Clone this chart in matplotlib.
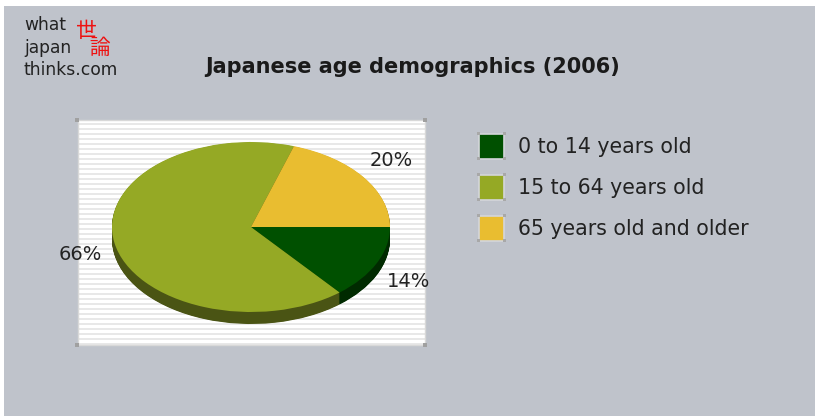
import numpy as np
import matplotlib
matplotlib.use("Agg")
import matplotlib.pyplot as plt
from matplotlib.patches import Wedge, Rectangle
from matplotlib.transforms import Affine2D

categories = ["0 to 14 years old", "15 to 64 years old", "65 years old and older"]
values = [14, 66, 20]
labels = ["14%", "66%", "20%"]
title = "Japanese age demographics (2006)"

top_colors = ["#005000", "#95a925", "#e9bd30"]
side_colors = ["#002a00", "#4a5414", "#7a6418"]

W, H = 815, 416
fig = plt.figure(figsize=(W / 100, H / 100), dpi=100)
fig.patch.set_facecolor("white")

def fx(x):
    return x / W

def fy(y):
    return 1 - y / H

# gray background
fig.add_artist(Rectangle((fx(4), 0), 1 - fx(4), fy(6), transform=fig.transFigure,
                         facecolor="#bfc3cb", edgecolor="none", zorder=-10))

# logo
for txt, yb in [("what", 30), ("japan", 53), ("thinks.com", 75)]:
    fig.text(fx(24), fy(yb), txt, fontsize=12.3, color="#222222", va="baseline", ha="left",
             family="DejaVu Sans")
fig.text(fx(76), fy(20), "世\n   論", fontsize=15, color="#ee1111", ha="left", va="top",
         multialignment="left", linespacing=0.68,
         family=["Noto Sans CJK JP", "DejaVu Sans"])

# title
fig.text(fx(412.5), fy(67), title, fontsize=15, fontweight="bold", color="#1a1a1a",
         ha="center", va="center")

# plot box
bx0, bx1, by0, by1 = 78, 425, 120, 345
ax = fig.add_axes([fx(bx0), fy(by1), fx(bx1) - fx(bx0), fy(by0) - fy(by1)])
ax.set_xlim(bx0, bx1)
ax.set_ylim(H - by1, H - by0)
ax.set_facecolor("white")
for s in ax.spines.values():
    s.set_color("#d8d8d8")
    s.set_linewidth(1)
ax.set_xticks([])
ax.set_yticks([])
ax.set_aspect("auto")
for yy in np.arange(H - by1, H - by0, 5):
    ax.axhspan(yy, yy + 2.2, color="#e8e8e8", lw=0, zorder=0)

cx, cy = 251, H - 227
rx, ry = 139, 85
depth = 12

fracs = np.array(values, dtype=float) / np.sum(values)
ends = -np.cumsum(fracs) * 360
starts = np.concatenate([[0], ends[:-1]])

ell = Affine2D().scale(rx, ry)

def draw_layer(offset, colors, z):
    tr = ell + Affine2D().translate(cx, cy - offset) + ax.transData
    for a0, a1, c in zip(starts, ends, colors):
        w = Wedge((0, 0), 1, a1, a0, facecolor=c, edgecolor="none", transform=tr, zorder=z)
        ax.add_patch(w)

for off in np.arange(depth, 0, -0.5):
    draw_layer(off, side_colors, 2)
draw_layer(0, top_colors, 3)

# labels
mids = (starts + ends) / 2
for m, lab in zip(mids, labels):
    r = np.deg2rad(m)
    lx = cx + 1.25 * rx * np.cos(r)
    ly = cy + 1.33 * ry * np.sin(r) - (6 if np.sin(r) < 0 else 0)
    ax.text(lx, ly, lab, fontsize=14, color="#222222", ha="center", va="center",
            zorder=5, clip_on=False)

# corner dots
for (x, y) in [(bx0 - 1, by0), (bx1, by0), (bx0 - 1, by1), (bx1, by1)]:
    fig.add_artist(Rectangle((fx(x - 2), fy(y + 2)), 4 / W, 4 / H, transform=fig.transFigure,
                             facecolor="#a0a0a0", edgecolor="none", zorder=5))

# legend
for i, (cat, col) in enumerate(zip(categories, top_colors)):
    yc = 146 + i * 41
    x0, x1 = 479, 504
    y0, y1 = yc - 12.5, yc + 12.5
    fig.add_artist(Rectangle((fx(x0), fy(y1)), (x1 - x0) / W, (y1 - y0) / H,
                             transform=fig.transFigure, facecolor=col, edgecolor="#d4d6da",
                             lw=1.2, zorder=4))
    for (x, y) in [(x0, y0), (x1, y0), (x0, y1), (x1, y1)]:
        fig.add_artist(Rectangle((fx(x - 1.5), fy(y + 1.5)), 3 / W, 3 / H,
                                 transform=fig.transFigure, facecolor="#a8a8a8",
                                 edgecolor="none", zorder=5))
    fig.text(fx(518), fy(yc + 1), cat, fontsize=14.8, color="#222222", ha="left", va="center")

fig.savefig("out.png", dpi=100, facecolor=fig.get_facecolor())
